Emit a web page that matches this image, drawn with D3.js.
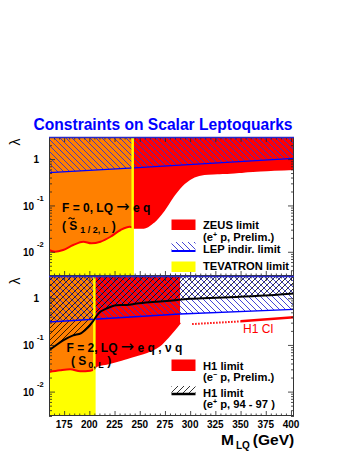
<!DOCTYPE html>
<html>
<head>
<meta charset="utf-8">
<script src="https://cdn.jsdelivr.net/npm/d3@7"></script>
<style>
body { margin: 0; background: #fff; }
text { font-family: 'Liberation Sans', Arial, sans-serif; }
</style>
</head>
<body>
<svg id="chart"></svg>
<script>
// ---- axes ----
const massDomain = [160, 403];
const lambdaDomain = [0.003, 3];
const massTicks = [175, 200, 225, 250, 275, 300, 325, 350, 375, 400];
const lambdaTicks = [0.01, 0.1, 1];
const lambdaTickBase = ['10', '10', '1'];
const lambdaTickExp = ['-2', '-1', ''];

// ---- top panel: F = 0, S~1/2,L ----
const tevatronTop = 243;
const zeusMass   = [160, 166, 174, 184, 194, 202, 211, 221, 231, 240, 245, 254, 264, 274, 284, 294, 304, 314, 327, 340, 353, 366, 380, 393, 403];
const zeusLambda = [0.0109, 0.0100, 0.0109, 0.0140, 0.0165, 0.0152, 0.0165, 0.0211, 0.0295, 0.0348, 0.033, 0.033, 0.0446, 0.0796, 0.168, 0.30, 0.417, 0.477, 0.494, 0.509, 0.535, 0.562, 0.582, 0.60, 0.61];
const lepTopMass   = [160, 240, 403];
const lepTopLambda = [0.51, 0.64, 1.04];

// ---- bottom panel: F = 2, S0,L ----
const tevatronBottom = 205;
const h1emMass   = [160, 171, 181, 191, 201, 205, 207, 217, 230, 244, 257, 270, 278, 285, 290];
const h1emLambda = [0.0264, 0.0287, 0.0301, 0.0273, 0.028, 0.031, 0.0354, 0.0397, 0.047, 0.058, 0.0707, 0.098, 0.148, 0.22, 0.30];
const h1epMass   = [160, 166, 174, 184, 192, 199, 204, 209, 217, 227, 237, 247, 260, 273, 287, 300, 313, 346, 379, 403];
const h1epLambda = [0.077, 0.095, 0.125, 0.16, 0.18, 0.24, 0.33, 0.47, 0.6, 0.71, 0.72, 0.77, 0.82, 0.86, 0.92, 0.98, 1.0, 1.07, 1.16, 1.27];
const lepBotMass   = [160, 290, 403];
const lepBotLambda = [0.31, 0.46, 0.58];
const h1ciDotMass   = [302, 350];
const h1ciDotLambda = [0.28, 0.32];
const h1ciMass   = [350, 403];
const h1ciLambda = [0.32, 0.39];

const zip = (a, b) => a.map((v, i) => [v, b[i]]);

const RED = '#ff0000', ORANGE = '#ff8000', YELLOW = '#ffff00', BLUE = '#0000ff';

const svg = d3.select('#chart').attr('width', 353).attr('height', 457);
const defs = svg.append('defs');

defs.append('pattern')
    .attr('id', 'hatchLep').attr('patternUnits', 'userSpaceOnUse')
    .attr('width', 6).attr('height', 6)
    .append('path')
    .attr('d', 'M-1,-1L7,7M-1,5L1,7M5,-1L7,1')
    .attr('stroke', '#3030d0').attr('stroke-width', 0.9);

defs.append('pattern')
    .attr('id', 'hatchH1').attr('patternUnits', 'userSpaceOnUse')
    .attr('width', 6).attr('height', 6)
    .append('path')
    .attr('d', 'M-1,7L7,-1M-1,1L1,-1M5,7L7,5')
    .attr('stroke', '#000').attr('stroke-width', 0.8);

const xscale = d3.scaleLinear().domain(massDomain).range([49, 294]);

class LimitPanel {
    constructor(config) {
        this.config = config;
        this.init();
    }

    init() {
        let self = this;
        const c = self.config;
        self.y = d3.scaleLog().domain(lambdaDomain).range([c.top + c.height, c.top]);
        self.g = svg.append('g');

        const x0 = xscale.range()[0], x1 = xscale.range()[1];
        const xt = xscale(c.tevatron);
        defs.append('clipPath').attr('id', c.id + '-left')
            .append('rect').attr('x', x0).attr('y', c.top).attr('width', xt - x0).attr('height', c.height);
        defs.append('clipPath').attr('id', c.id + '-right')
            .append('rect').attr('x', xt).attr('y', c.top).attr('width', x1 - xt).attr('height', c.height);
        defs.append('clipPath').attr('id', c.id + '-all')
            .append('rect').attr('x', x0).attr('y', c.top).attr('width', x1 - x0).attr('height', c.height);
        self.plot = self.g.append('g').attr('clip-path', `url(#${c.id}-all)`);
    }

    render() {
        let self = this;
        const c = self.config, y = self.y, p = self.plot;
        const yTop = y(lambdaDomain[1]), yBot = y(lambdaDomain[0]);

        // tevatron excluded band
        p.append('rect')
            .attr('x', xscale(massDomain[0])).attr('y', yTop)
            .attr('width', xscale(c.tevatron) - xscale(massDomain[0]))
            .attr('height', yBot - yTop)
            .attr('fill', YELLOW);

        // HERA exclusion: region above the curve
        const excl = zip(c.exclMass, c.exclLambda);
        const exclArea = d3.area()
            .x(d => xscale(d[0])).y0(yTop).y1(d => y(d[1]))
            .curve(d3.curveMonotoneX);
        p.append('path').attr('d', exclArea(excl)).attr('fill', RED)
            .attr('clip-path', `url(#${c.id}-right)`);
        p.append('path').attr('d', exclArea(excl)).attr('fill', ORANGE)
            .attr('clip-path', `url(#${c.id}-left)`);
        p.append('path')
            .attr('d', d3.line().x(d => xscale(d[0])).y(d => y(d[1])).curve(d3.curveMonotoneX)(excl))
            .attr('fill', 'none').attr('stroke', RED).attr('stroke-width', 2);

        // LEP indirect limit
        const lep = zip(c.lepMass, c.lepLambda);
        p.append('path')
            .attr('d', d3.area().x(d => xscale(d[0])).y0(yTop).y1(d => y(d[1]))(lep))
            .attr('fill', 'url(#hatchLep)');

        // H1 e+p limit
        let h1ep = null;
        if (c.h1epMass) {
            h1ep = zip(c.h1epMass, c.h1epLambda);
            p.append('path')
                .attr('d', d3.area().x(d => xscale(d[0])).y0(yTop).y1(d => y(d[1])).curve(d3.curveMonotoneX)(h1ep))
                .attr('fill', 'url(#hatchH1)');
        }

        p.append('path')
            .attr('d', d3.line().x(d => xscale(d[0])).y(d => y(d[1]))(lep))
            .attr('fill', 'none').attr('stroke', BLUE).attr('stroke-width', 1.3);

        p.append('line')
            .attr('x1', xscale(c.tevatron)).attr('x2', xscale(c.tevatron))
            .attr('y1', yTop).attr('y2', yBot)
            .attr('stroke', YELLOW).attr('stroke-width', 2.5);

        if (h1ep) {
            p.append('path')
                .attr('d', d3.line().x(d => xscale(d[0])).y(d => y(d[1])).curve(d3.curveMonotoneX)(h1ep))
                .attr('fill', 'none').attr('stroke', '#000').attr('stroke-width', 2);
        }

        if (c.ciDotMass) {
            p.append('path')
                .attr('d', d3.line().x(d => xscale(d[0])).y(d => y(d[1]))(zip(c.ciDotMass, c.ciDotLambda)))
                .attr('fill', 'none').attr('stroke', RED).attr('stroke-width', 2)
                .attr('stroke-dasharray', '1.5,1.5');
            p.append('path')
                .attr('d', d3.line().x(d => xscale(d[0])).y(d => y(d[1]))(zip(c.ciMass, c.ciLambda)))
                .attr('fill', 'none').attr('stroke', RED).attr('stroke-width', 2.5);
        }

        self.renderAxes();

        // top edge of the LEP polygon, over the frame
        self.g.append('line')
            .attr('x1', xscale.range()[0]).attr('x2', xscale.range()[1])
            .attr('y1', yTop + 0.5).attr('y2', yTop + 0.5)
            .attr('stroke', '#2828c8').attr('stroke-width', 1.3);
    }

    renderAxes() {
        let self = this;
        const c = self.config, y = self.y;
        const x0 = xscale.range()[0], x1 = xscale.range()[1];
        const yTop = y(lambdaDomain[1]), yBot = y(lambdaDomain[0]);

        const yMinor = y.ticks().filter(v => !lambdaTicks.some(t => Math.abs(t - v) < 1e-9));
        const xMinor = xscale.ticks(48).filter(v => !massTicks.includes(v));

        const specs = [
            [d3.axisLeft(y), x0, 0, lambdaTicks, 6],
            [d3.axisLeft(y), x0, 0, yMinor, 3],
            [d3.axisRight(y), x1, 0, lambdaTicks, 6],
            [d3.axisRight(y), x1, 0, yMinor, 3],
            [d3.axisBottom(xscale), 0, yBot, massTicks, 5],
            [d3.axisBottom(xscale), 0, yBot, xMinor, 2.5],
            [d3.axisTop(xscale), 0, yTop, massTicks, 5],
            [d3.axisTop(xscale), 0, yTop, xMinor, 2.5]
        ];
        specs.forEach(([axis, tx, ty, vals, len]) => {
            const ag = self.g.append('g')
                .attr('transform', `translate(${tx},${ty})`)
                .call(axis.tickValues(vals).tickSizeInner(-len).tickSizeOuter(0).tickFormat(''));
            ag.select('.domain').remove();
            ag.selectAll('line').attr('stroke', '#222').attr('stroke-width', 0.8);
        });

        self.g.append('rect')
            .attr('x', x0 + 0.5).attr('y', yTop + 0.5)
            .attr('width', x1 - x0 - 1).attr('height', yBot - yTop - 1)
            .attr('fill', 'none').attr('stroke', '#333').attr('stroke-width', 1);

        // y tick labels
        lambdaTicks.forEach((v, i) => {
            const yy = y(v);
            if (lambdaTickExp[i] === '') {
                self.g.append('text').attr('x', 39).attr('y', yy + 4)
                    .attr('text-anchor', 'end').attr('font-size', 10).attr('font-weight', 'bold')
                    .text(lambdaTickBase[i]);
            } else {
                self.g.append('text').attr('x', 34).attr('y', yy + 4.5)
                    .attr('text-anchor', 'end').attr('font-size', 10).attr('font-weight', 'bold')
                    .text(lambdaTickBase[i]);
                self.g.append('text').attr('x', 37).attr('y', yy - 4.5)
                    .attr('font-size', 7.5).attr('font-weight', 'bold')
                    .text(lambdaTickExp[i]);
            }
        });

        self.g.append('text')
            .attr('transform', `translate(20,${yTop + 5}) rotate(-90)`)
            .attr('text-anchor', 'middle').attr('font-size', 14)
            .text('λ');
    }
}

const topPanel = new LimitPanel({
    id: 'top', top: 137, height: 139, tevatron: tevatronTop,
    exclMass: zeusMass, exclLambda: zeusLambda,
    lepMass: lepTopMass, lepLambda: lepTopLambda
});
topPanel.render();

const bottomPanel = new LimitPanel({
    id: 'bot', top: 276, height: 140, tevatron: tevatronBottom,
    exclMass: h1emMass, exclLambda: h1emLambda,
    lepMass: lepBotMass, lepLambda: lepBotLambda,
    h1epMass: h1epMass, h1epLambda: h1epLambda,
    ciDotMass: h1ciDotMass, ciDotLambda: h1ciDotLambda,
    ciMass: h1ciMass, ciLambda: h1ciLambda
});
bottomPanel.render();

// ---- x tick labels and title ----
massTicks.forEach(v => {
    svg.append('text').attr('x', xscale(v)).attr('y', 428)
        .attr('text-anchor', 'middle').attr('font-size', 10).attr('font-weight', 'bold')
        .text(v);
});
const xt = svg.append('text').attr('x', 221).attr('y', 445)
    .attr('font-size', 15.5).attr('font-weight', 'bold');
xt.append('tspan').text('M');
xt.append('tspan').attr('font-size', 10).attr('dx', 2).attr('dy', 4).text('LQ');
xt.append('tspan').attr('dx', 3).attr('dy', -4).text('(GeV)');

svg.append('text').attr('x', 163).attr('y', 129.5)
    .attr('text-anchor', 'middle').attr('font-size', 15.6).attr('font-weight', 'bold')
    .attr('fill', BLUE)
    .text('Constraints on Scalar Leptoquarks');

// ---- panel labels ----
function label(x, yy, size, parts) {
    const t = svg.append('text').attr('x', x).attr('y', yy)
        .attr('font-size', size).attr('font-weight', 'bold');
    parts.forEach(pt => {
        const s = t.append('tspan').text(pt.t);
        if (pt.size) s.attr('font-size', pt.size);
        if (pt.dy) s.attr('dy', pt.dy);
        if (pt.dx) s.attr('dx', pt.dx);
        if (pt.arrow) s.attr('font-family', 'DejaVu Sans').attr('font-weight', 'normal');
    });
    return t;
}

label(62, 211.5, 12, [{t: 'F = 0, LQ '}, {t: '→', size: 16, arrow: true}, {t: ' e q'}]);
label(62, 230, 12, [{t: '( S'}, {t: '1 / 2, L', size: 9, dy: 3, dx: 3}, {t: ' )', dy: -3}]);
// tilde over the S
svg.append('path').attr('d', 'M68.5,219 q1.5,-2 3,-0.6 t3,-0.6')
    .attr('fill', 'none').attr('stroke', '#000').attr('stroke-width', 1.1);

label(66.5, 351.5, 12, [{t: 'F = 2, LQ '}, {t: '→', size: 16, arrow: true}, {t: ' e q , ν q'}]);
label(71, 364.5, 12, [{t: '( S'}, {t: '0, L', size: 9, dy: 3, dx: 2}, {t: ' )', dy: -3}]);

svg.append('text').attr('x', 243).attr('y', 333)
    .attr('font-size', 12).attr('fill', RED).text('H1 CI');

// ---- legends ----
const LX = 171.5, LW = 24, TX = 203;
const legendFont = 11.2;

svg.append('rect').attr('x', LX).attr('y', 219.5).attr('width', LW).attr('height', 10.5).attr('fill', RED);
label(TX, 229, legendFont, [{t: 'ZEUS limit'}]);
label(TX, 240.5, legendFont, [{t: '(e'}, {t: '+', size: 7, dy: -4}, {t: ' p, Prelim.)', dy: 4}]);

svg.append('rect').attr('x', LX).attr('y', 242).attr('width', LW).attr('height', 9.5).attr('fill', 'url(#hatchLep)');
svg.append('line').attr('x1', LX).attr('x2', LX + LW).attr('y1', 251).attr('y2', 251)
    .attr('stroke', BLUE).attr('stroke-width', 2);
label(TX, 252.5, legendFont, [{t: 'LEP indir. limit'}]);

svg.append('rect').attr('x', LX).attr('y', 261.5).attr('width', LW).attr('height', 10.5).attr('fill', YELLOW);
label(TX, 270, legendFont, [{t: 'TEVATRON limit'}]);

svg.append('rect').attr('x', LX).attr('y', 359.5).attr('width', LW).attr('height', 11.5).attr('fill', RED);
label(TX, 370, legendFont, [{t: 'H1 limit'}]);
label(TX, 381, legendFont, [{t: '(e'}, {t: '−', size: 7, dy: -4}, {t: ' p, Prelim.)', dy: 4}]);

svg.append('rect').attr('x', LX).attr('y', 386).attr('width', LW).attr('height', 8.5).attr('fill', 'url(#hatchH1)');
svg.append('line').attr('x1', LX).attr('x2', LX + LW).attr('y1', 394).attr('y2', 394)
    .attr('stroke', '#000').attr('stroke-width', 2.5);
label(TX, 397, legendFont, [{t: 'H1 limit'}]);
label(TX, 407.5, legendFont, [{t: '(e'}, {t: '+', size: 7, dy: -4}, {t: ' p, 94 - 97 )', dy: 4}]);
</script>
</body>
</html>
